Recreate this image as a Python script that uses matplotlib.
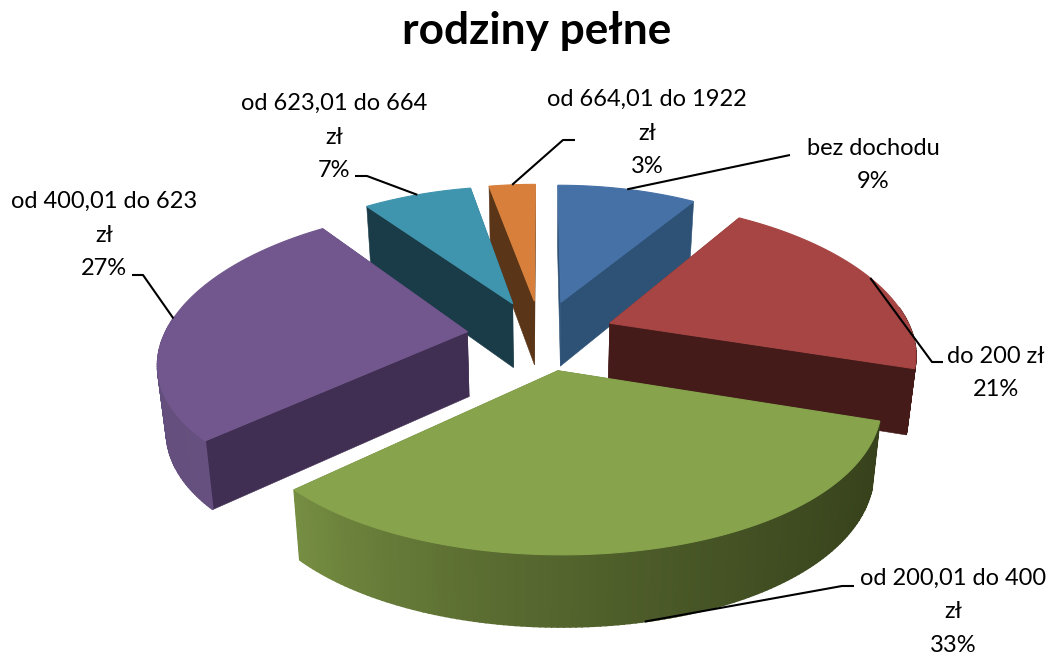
import matplotlib
matplotlib.use('Agg')
import matplotlib.pyplot as plt
from matplotlib.patches import Polygon
import numpy as np

plt.rcParams['font.family'] = ['Lato', 'DejaVu Sans']

title = 'rodziny pełne'
categories = ['bez dochodu', 'do 200 zł', 'od 200,01 do 400\nzł', 'od 400,01 do 623\nzł',
              'od 623,01 do 664\nzł', 'od 664,01 do 1922\nzł']
values = [9, 21, 33, 27, 7, 3]

top_colors = ['#4571A6', '#A64543', '#87A44D', '#71578D', '#4095AE', '#D8803B']
cut_colors = ['#2E5176', '#451B1A', '#37421C', '#402F52', '#1A3C48', '#5A3518']
# outer wall colour at the end of the arc, then at its start
wall_from = ['#2E5176', '#451B1A', '#37421C', '#65507F', '#1A3C48', '#5A3518']
wall_to = ['#2E5176', '#451B1A', '#768E42', '#5E4A76', '#1A3C48', '#5A3518']

# label centre, leader elbow and leader tail, in pixels
label_pos = [(873, 165), (996, 373), (953, 612), (104, 235), (334, 137), (647, 133)]
leaders = [[(790, 155)], [(932, 362), (943, 362)], [(842, 586), (854, 586)],
           [(143, 275), (132, 275)], [(367, 176), (355, 176)], [(563, 140), (575, 140)]]

# projection settings
cx, cy = 541, 335
scale_x, scale_y = 303, 144
persp_x, persp_y = 0.185, 0.152
explode = 0.245
wall_h = 65
wall_shrink = 0.023


def project(x, y, bottom=False):
    px = scale_x * x / (1 + persp_x * y)
    py = scale_y * y / (1 + persp_y * y)
    if bottom:
        return cx + px * (1 - wall_shrink), cy - py + wall_h / (1 + 0.08 * y)
    return cx + px, cy - py


def outline(mid, angles):
    off_x = explode * np.sin(mid)
    off_y = explode * np.cos(mid)
    return np.sin(angles) + off_x, np.cos(angles) + off_y, off_x, off_y


def mix(c1, c2, t):
    a = np.array(matplotlib.colors.to_rgb(c1))
    b = np.array(matplotlib.colors.to_rgb(c2))
    return tuple(a + (b - a) * t)


fig = plt.figure(figsize=(10.51, 6.54), dpi=100)
ax = fig.add_axes([0, 0, 1, 1])
ax.set_xlim(0, 1051)
ax.set_ylim(654, 0)
ax.axis('off')

edges = np.cumsum([0] + values) / sum(values) * 2 * np.pi
mids = (edges[:-1] + edges[1:]) / 2
anchors = {}

for i in [5, 0, 4, 1, 3, 2]:
    n = max(int(values[i] * 4), 8)
    ang = np.linspace(edges[i], edges[i + 1], n)
    xs, ys, ox, oy = outline(mids[i], ang)
    faces = []
    for j in [0, -1]:
        faces.append(((ys[j] + oy) / 2, [(ox, oy), (xs[j], ys[j])], cut_colors[i], 0.4))
    for j in range(n - 1):
        # back of the rim can't be seen
        if np.cos(ang[j]) > 0.1 and np.cos(ang[j + 1]) > 0.1:
            continue
        t = j / (n - 2)
        col = mix(wall_from[i], wall_to[i], t ** 1.6 if i == 2 else t)
        faces.append(((ys[j] + ys[j + 1]) / 2, [(xs[j], ys[j]), (xs[j + 1], ys[j + 1])], col, 1.2))
    for _, seg, col, lw in sorted(faces, key=lambda f: -f[0]):
        pts = [project(*p) for p in seg] + [project(*p, bottom=True) for p in seg[::-1]]
        ax.add_patch(Polygon(pts, closed=True, facecolor=col, edgecolor=col, lw=lw, zorder=2))
    top = [project(ox, oy)] + [project(a, b) for a, b in zip(xs, ys)]
    ax.add_patch(Polygon(top, closed=True, facecolor=top_colors[i], edgecolor=top_colors[i],
                         lw=0.8, zorder=2))
    mx, my, _, _ = outline(mids[i], np.array([mids[i]]))
    anchors[i] = project(mx[0], my[0], bottom=(i == 2))

for i, name in enumerate(categories):
    pts = [anchors[i]] + leaders[i]
    ax.plot([p[0] for p in pts], [p[1] for p in pts], color='black', lw=1.5, zorder=3,
            solid_capstyle='butt', solid_joinstyle='round')
    ax.text(label_pos[i][0], label_pos[i][1], f'{name}\n{values[i]}%', ha='center', va='center',
            fontsize=17, linespacing=1.72, color='black', zorder=4)

ax.text(537, 31, title, ha='center', va='center', fontsize=31.8, fontweight='bold', color='black')

fig.savefig('out.png', dpi=100)
